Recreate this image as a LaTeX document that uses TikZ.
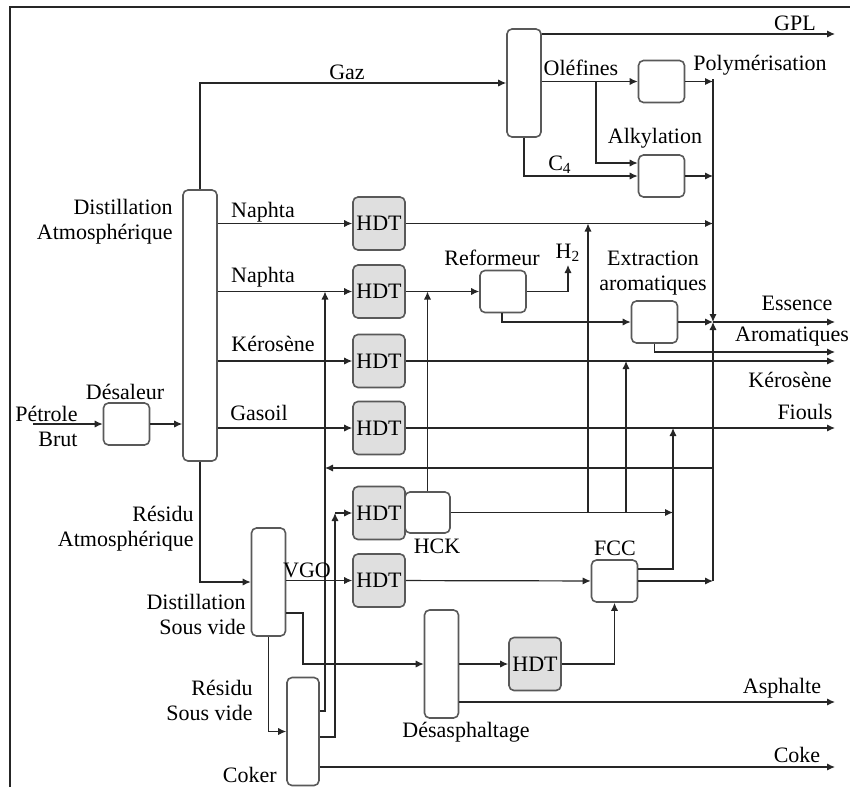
\documentclass[tikz,border=0pt]{standalone}
\usepackage{fontspec}
\setmainfont{Liberation Serif}
\usetikzlibrary{arrows.meta}

\begin{document}
\begin{tikzpicture}[
  x=0.5pt, y=-0.5pt,
  lbl/.style={inner sep=0pt, align=center, font=\fontsize{11}{12.5}\selectfont},
  unit/.style={draw=black!65, line width=0.8pt, rounded corners=2.5pt, inner sep=0pt, minimum width=23pt, minimum height=21pt},
  hdt/.style={unit, fill=gray!25, minimum width=26pt, minimum height=26.5pt, font=\fontsize{11}{12.5}\selectfont},
  column/.style={unit, minimum width=17pt, minimum height=54pt},
  flow/.style={-{Latex[length=4pt, width=3.6pt]}, line width=0.6pt, black!85}
]
  \useasboundingbox (0,0) rectangle (850,787);
  \draw[line width=0.6pt, black!85] (10,787) -- (10,7) -- (850,7);

  \node[column, minimum height=135.5pt] (atm) at (200,325.5) {};
  \node[unit] (desal) at (126.5,424) {};
  \node[column] (gascol) at (524,83) {};
  \node[unit] (poly) at (661.5,81.5) {};
  \node[unit] (alky) at (661.5,176) {};
  \node[hdt] (hdtA) at (379,223.5) {HDT};
  \node[hdt] (hdtB) at (379,291.5) {HDT};
  \node[hdt] (hdtC) at (379,361) {HDT};
  \node[hdt] (hdtD) at (379,428) {HDT};
  \node[hdt] (hdtE) at (379,513) {HDT};
  \node[hdt] (hdtF) at (379,580.5) {HDT};
  \node[hdt] (hdtG) at (535,664) {HDT};
  \node[unit] (ref) at (503,291.5) {};
  \node[unit] (ext) at (654.5,322) {};
  \node[unit, minimum width=22.5pt, minimum height=20.5pt] (hck) at (427.5,512.5) {};
  \node[unit] (fcc) at (614.5,581) {};
  \node[column] (vac) at (268.5,582) {};
  \node[column] (desasph) at (441.5,664) {};
  \node[column, minimum width=16pt] (coker) at (303,731.5) {};

  \coordinate (crude) at (33,424);
  \coordinate (olbr) at (596,81.5);
  \coordinate (colTop) at (713,79);
  \coordinate (ess) at (713,322);
  \coordinate (colBot) at (713,581);
  \coordinate (rim) at (835,0);
  \coordinate (gpl) at (835,34);
  \coordinate (arom) at (835,352);
  \coordinate (asph) at (835,702);
  \coordinate (coke) at (835,767);
  \coordinate (ret) at (713,468);
  \coordinate (ck1) at (325,711);
  \coordinate (ck2) at (335,737);
  \coordinate (vd) at (303,613);
  \coordinate (fc) at (673,569);
  \coordinate (hb1) at (588,512.5);
  \coordinate (hb2) at (626,512.5);
  \coordinate (h2tip) at (568,265);

  \draw[flow] (crude) -- (desal);
  \draw[flow] (desal) -- (atm.west |- desal);
  \draw[flow] (atm.north) |- (gascol);
  \draw[flow] (gascol.east |- gpl) -- (gpl);
  \draw[flow] (gascol.east |- poly) -- (poly);
  \draw[flow] (olbr) |- ([yshift=6.5pt]alky.west);
  \draw[flow] (gascol.south) |- (alky);
  \draw[flow] (poly) -- (poly -| colTop);
  \draw[flow] (alky) -- (alky -| colTop);
  \draw[flow] (colTop) -- (ess);
  \draw[flow] (colBot) -- (ess);
  \draw[flow] (ess) -- (ess -| rim);
  \draw[flow] (atm.east |- hdtA) -- (hdtA);
  \draw[flow] (hdtA) -- (hdtA -| colTop);
  \draw[flow] (atm.east |- hdtB) -- (hdtB);
  \draw[flow] (hdtB) -- (ref);
  \draw[flow] (ref) -| (h2tip);
  \draw[flow] ([xshift=-0.5pt]ref.south) |- (ext);
  \draw[flow] (ext) -- (ess);
  \draw[flow] (ext.south) |- (arom);
  \draw[flow] (atm.east |- hdtC) -- (hdtC);
  \draw[flow] (hdtC) -- (hdtC -| rim);
  \draw[flow] (atm.east |- hdtD) -- (hdtD);
  \draw[flow] (hdtD) -- (hdtD -| rim);
  \draw[flow] (ret) -- (ret -| ck1);
  \draw[flow] (coker.east |- ck1) -| (ck1 |- hdtB);
  \draw[flow] (coker.east |- ck2) -| (ck2 |- hdtE);
  \draw[flow] (ck2 |- hdtE) -- (hdtE);
  \draw[flow] (coke -| coker.east) -- (coke);
  \draw[flow] (atm.south) |- (vac);
  \draw[flow] (vac.east |- hdtF) -- (hdtF);
  \draw[flow] (vac.east |- vd) -- (vd) |- (desasph);
  \draw[flow] (vac.south) |- (coker);
  \draw[flow] (desasph) -- (hdtG);
  \draw[flow] (hdtG) -| (fcc.south);
  \draw[flow] (desasph.east |- asph) -- (asph);
  \draw[flow] (hdtF) -- (fcc);
  \draw[flow] (fcc) -- (colBot);
  \draw[flow] (fcc.east |- fc) -| (fc |- hdtD);
  \draw[flow] (hck) -- (hck -| fc);
  \draw[flow] (hb1) -- (hb1 |- hdtA);
  \draw[flow] (hb2) -- (hb2 |- hdtC);
  \draw[flow] (hck.north) -- (hck.north |- hdtB);

  \node[lbl] (lgaz) at (347,72) {Gaz};
  \node[lbl] (lgpl) at (795,23) {GPL};
  \node[lbl] (lolef) at (581,68) {Oléfines};
  \node[lbl] (lpoly) at (760,65) {Polymérisation};
  \node[lbl] (lalky) at (655,138) {Alkylation};
  \node[lbl] (lc4) at (560,165) {C\textsubscript{4}};
  \node[lbl, anchor=east, align=right] (latm) at (173,222) {Distillation\\Atmosphérique};
  \node[lbl] (lnaA) at (263,212) {Naphta};
  \node[lbl] (lnaB) at (263,277) {Naphta};
  \node[lbl] (lkeA) at (273,344) {Kérosène};
  \node[lbl] (lgas) at (259,413) {Gasoil};
  \node[lbl] (ldes) at (125,392) {Désaleur};
  \node[lbl, anchor=east, align=right] (lcrude) at (78,426) {Pétrole\\Brut};
  \node[lbl] (lref) at (492,258) {Reformeur};
  \node[lbl] (lh2) at (568,253) {H\textsubscript{2}};
  \node[lbl] (lext) at (653,273) {Extraction\\aromatiques};
  \node[lbl] (less) at (797,303) {Essence};
  \node[lbl] (larom) at (792,337) {Aromatiques};
  \node[lbl] (lkeB) at (790,380) {Kérosène};
  \node[lbl] (lfio) at (805,412) {Fiouls};
  \node[lbl, anchor=east, align=right] (lres1) at (194,529) {Résidu\\Atmosphérique};
  \node[lbl, anchor=east, align=right] (lvac) at (246,614) {Distillation\\Sous vide};
  \node[lbl] (lvgo) at (307,570) {VGO};
  \node[lbl] (lhck) at (437,546) {HCK};
  \node[lbl] (lfcc) at (615,548) {FCC};
  \node[lbl, anchor=east, align=right] (lres2) at (253,700) {Résidu\\Sous vide};
  \node[lbl, anchor=east] (lcok) at (277,775) {Coker};
  \node[lbl] (ldsp) at (466,732) {Désasphaltage};
  \node[lbl] (lasp) at (782,688) {Asphalte};
  \node[lbl] (lcoke) at (797,755) {Coke};
\end{tikzpicture}
\end{document}
